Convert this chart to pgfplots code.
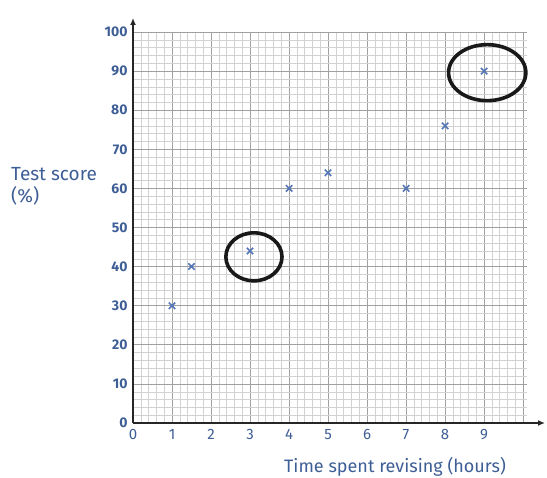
\documentclass[border=0pt]{standalone}
\usepackage{fontspec}
\setmainfont{Fira Sans}
\usepackage{pgfplots}
\pgfplotsset{compat=1.18}
\usetikzlibrary{arrows.meta}
\definecolor{txtblue}{RGB}{62,94,150}
\definecolor{markblue}{RGB}{84,118,182}
\definecolor{gridmaj}{RGB}{160,160,160}
\definecolor{gridmin}{RGB}{210,210,210}

\begin{document}
\begin{tikzpicture}
\begin{axis}[
  scale only axis, width=394pt, height=391pt,
  xmin=0, xmax=10.1, ymin=0, ymax=100,
  axis lines=left,
  axis line style={line width=1.8pt, color=black!85, -{Latex[length=7pt,width=6pt]}},
  x axis line style={shorten >=-18pt},
  y axis line style={shorten >=-14pt},
  xtick={0,...,10}, xticklabels={0,1,2,3,4,5,6,7,8,9,{}},
  ytick={0,10,...,100},
  minor x tick num=4, minor y tick num=4,
  grid=both,
  major grid style={gridmaj, line width=0.6pt},
  minor grid style={gridmin, line width=0.4pt},
  major tick length=0pt, minor tick length=0pt,
  /pgf/number format/assume math mode=true,
  xticklabel style={yshift=-3pt, font=\fontsize{15}{17}\selectfont, text=txtblue},
  yticklabel style={xshift=-2pt, font=\fontsize{14}{16}\selectfont\bfseries, text=txtblue},
  xlabel={Time spent revising (hours)},
  xlabel style={font=\fontsize{18}{20}\selectfont, text=txtblue,
    at={(axis description cs:0.665,-0.113)}, anchor=center},
  ylabel={Test score\\(\%)},
  ylabel style={font=\fontsize{19}{22}\selectfont, text=txtblue, rotate=-90,
    align=left, anchor=west, at={(axis description cs:-0.318,0.605)}},
  clip=false,
]
\addplot[only marks, mark=x, mark size=4.5pt, color=markblue, mark options={line width=1.6pt}]
  coordinates {(1,30) (1.5,40) (3,44) (4,60) (5,64) (7,60) (8,76) (9,90)};
% hand-drawn rings
\addplot[only marks, mark=o, mark size=24pt, mark options={xscale=1.17, line width=3.6pt, black!90}]
  coordinates {(3.1,42.5)};
\addplot[only marks, mark=o, mark size=28pt, mark options={xscale=1.38, line width=3.6pt, black!90}]
  coordinates {(9.08,89.6)};
\end{axis}
\pgfresetboundingbox
\path (-133pt,-55pt) rectangle (414pt,423pt);
\end{tikzpicture}
\end{document}
